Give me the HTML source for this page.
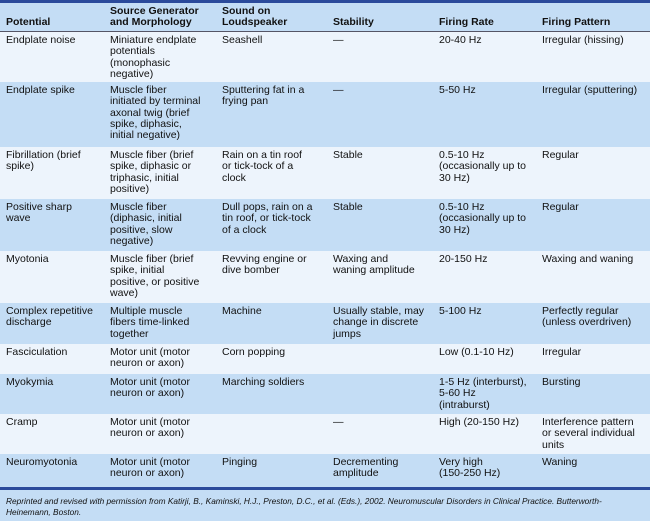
<!DOCTYPE html><html><head><style>
body{margin:0;width:650px;height:521px;overflow:hidden;background:#edf4fc;font-family:"Liberation Sans",sans-serif;font-size:10.5px;color:#111}
.top{position:absolute;left:0;top:0;width:650px;height:3px;background:#2b4a9b}
.r{position:absolute;left:0;width:650px}
.c{position:absolute;top:3px;line-height:11.3px;white-space:nowrap}
.h{font-weight:bold;border-bottom:1px solid #556}
.b{background:#c4ddf5}.w{background:#edf4fc}
.c1{left:6px}.c2{left:110px}.c3{left:222px}.c4{left:333px}.c5{left:439px}.c6{left:542px}
.line{position:absolute;left:0;top:487px;width:650px;height:3px;background:#2b4a9b}
.foot{position:absolute;left:0;top:490px;width:650px;height:31px;background:#c4ddf5;font-style:italic;font-size:8.3px;line-height:10.5px}
.foot div{position:absolute;left:6px;top:6px;width:640px}
</style></head><body>
<div class="top"></div>
<div class="r b h" style="top:3px;height:28px">
<div class="c c1" style="top:14px">Potential</div><div class="c c2" style="top:3px">Source Generator<br>and Morphology</div><div class="c c3" style="top:3px">Sound on<br>Loudspeaker</div><div class="c c4" style="top:14px">Stability</div><div class="c c5" style="top:14px">Firing Rate</div><div class="c c6" style="top:14px">Firing Pattern</div></div>
<div class="r w" style="top:32px;height:50px"><div class="c c1">Endplate noise</div><div class="c c2">Miniature endplate<br>potentials<br>(monophasic<br>negative)</div><div class="c c3">Seashell</div><div class="c c4">—</div><div class="c c5">20-40 Hz</div><div class="c c6">Irregular (hissing)</div></div>
<div class="r b" style="top:82px;height:65px"><div class="c c1">Endplate spike</div><div class="c c2">Muscle fiber<br>initiated by terminal<br>axonal twig (brief<br>spike, diphasic,<br>initial negative)</div><div class="c c3">Sputtering fat in a<br>frying pan</div><div class="c c4">—</div><div class="c c5">5-50 Hz</div><div class="c c6">Irregular (sputtering)</div></div>
<div class="r w" style="top:147px;height:52px"><div class="c c1">Fibrillation (brief<br>spike)</div><div class="c c2">Muscle fiber (brief<br>spike, diphasic or<br>triphasic, initial<br>positive)</div><div class="c c3">Rain on a tin roof<br>or tick-tock of a<br>clock</div><div class="c c4">Stable</div><div class="c c5">0.5-10 Hz<br>(occasionally up to<br>30 Hz)</div><div class="c c6">Regular</div></div>
<div class="r b" style="top:199px;height:52px"><div class="c c1">Positive sharp<br>wave</div><div class="c c2">Muscle fiber<br>(diphasic, initial<br>positive, slow<br>negative)</div><div class="c c3">Dull pops, rain on a<br>tin roof, or tick-tock<br>of a clock</div><div class="c c4">Stable</div><div class="c c5">0.5-10 Hz<br>(occasionally up to<br>30 Hz)</div><div class="c c6">Regular</div></div>
<div class="r w" style="top:251px;height:52px"><div class="c c1">Myotonia</div><div class="c c2">Muscle fiber (brief<br>spike, initial<br>positive, or positive<br>wave)</div><div class="c c3">Revving engine or<br>dive bomber</div><div class="c c4">Waxing and<br>waning amplitude</div><div class="c c5">20-150 Hz</div><div class="c c6">Waxing and waning</div></div>
<div class="r b" style="top:303px;height:41px"><div class="c c1">Complex repetitive<br>discharge</div><div class="c c2">Multiple muscle<br>fibers time-linked<br>together</div><div class="c c3">Machine</div><div class="c c4">Usually stable, may<br>change in discrete<br>jumps</div><div class="c c5">5-100 Hz</div><div class="c c6">Perfectly regular<br>(unless overdriven)</div></div>
<div class="r w" style="top:344px;height:30px"><div class="c c1">Fasciculation</div><div class="c c2">Motor unit (motor<br>neuron or axon)</div><div class="c c3">Corn popping</div><div class="c c5">Low (0.1-10 Hz)</div><div class="c c6">Irregular</div></div>
<div class="r b" style="top:374px;height:40px"><div class="c c1">Myokymia</div><div class="c c2">Motor unit (motor<br>neuron or axon)</div><div class="c c3">Marching soldiers</div><div class="c c5">1-5 Hz (interburst),<br>5-60 Hz<br>(intraburst)</div><div class="c c6">Bursting</div></div>
<div class="r w" style="top:414px;height:40px"><div class="c c1">Cramp</div><div class="c c2">Motor unit (motor<br>neuron or axon)</div><div class="c c4">—</div><div class="c c5">High (20-150 Hz)</div><div class="c c6">Interference pattern<br>or several individual<br>units</div></div>
<div class="r b" style="top:454px;height:33px"><div class="c c1">Neuromyotonia</div><div class="c c2">Motor unit (motor<br>neuron or axon)</div><div class="c c3">Pinging</div><div class="c c4">Decrementing<br>amplitude</div><div class="c c5">Very high<br>(150-250 Hz)</div><div class="c c6">Waning</div></div>
<div class="line"></div>
<div class="foot"><div>Reprinted and revised with permission from Katirji, B., Kaminski, H.J., Preston, D.C., et al. (Eds.), 2002. Neuromuscular Disorders in Clinical Practice. Butterworth-<br>Heinemann, Boston.</div></div>
</body></html>
